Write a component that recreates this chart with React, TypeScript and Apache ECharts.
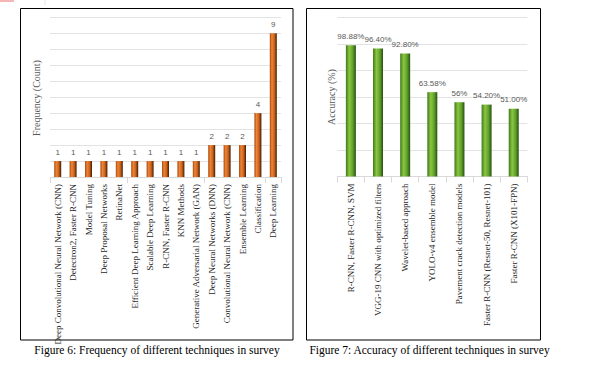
import React, { useEffect, useRef } from "react";
import * as echarts from "echarts";

const techniqueCategories = [
  "Deep Convolutional Neural Network (CNN)",
  "Detectron2, Faster R-CNN",
  "Model Tuning",
  "Deep Proposal Networks",
  "RetinaNet",
  "Efficient Deep Learning Approach",
  "Scalable Deep Learning",
  "R-CNN, Faster R-CNN",
  "KNN Methods",
  "Generative Adversarial Network (GAN)",
  "Deep Neural Networks (DNN)",
  "Convolutional Neural Network (CNN)",
  "Ensemble Learning",
  "Classification",
  "Deep Learning",
];
const techniqueCounts = [1, 1, 1, 1, 1, 1, 1, 1, 1, 1, 2, 2, 2, 4, 9];

const accuracyCategories = [
  "R-CNN, Faster R-CNN, SVM",
  "VGG-19 CNN with optimized filters",
  "Wavelet-based approach",
  "YOLO-v4 ensemble model",
  "Pavement crack detection models",
  "Faster R-CNN (Resnet-50, Resnet-101)",
  "Faster R-CNN (X101-FPN)",
];
const accuracyValues = [98.88, 96.4, 92.8, 63.58, 56, 54.2, 51.0];
const accuracyLabels = ["98.88%", "96.40%", "92.80%", "63.58%", "56%", "54.20%", "51.00%"];

const leftTitle = "Figure 6: Frequency of different techniques in survey";
const rightTitle = "Figure 7: Accuracy of different techniques in survey";
const leftAxisName = "Frequency (Count)";
const rightAxisName = "Accuracy (%)";

const serif = "'Liberation Serif', 'Times New Roman', serif";
const sans = "'Liberation Sans', Arial, sans-serif";

const orange = new echarts.graphic.LinearGradient(0, 0, 1, 0, [
  { offset: 0, color: "#a9490c" },
  { offset: 0.3, color: "#ee8436" },
  { offset: 0.65, color: "#cc631a" },
  { offset: 1, color: "#3f1c06" },
]);
const green = new echarts.graphic.LinearGradient(0, 0, 1, 0, [
  { offset: 0, color: "#3f7a1c" },
  { offset: 0.35, color: "#8cc63f" },
  { offset: 0.7, color: "#5e9e2c" },
  { offset: 1, color: "#27500c" },
]);

export default function App() {
  const ref = useRef<HTMLDivElement>(null);
  useEffect(() => {
    document.body.style.margin = "0";
    const chart = echarts.init(ref.current!, null, { renderer: "svg" });
    const catLabel = {
      rotate: 90,
      fontFamily: serif,
      fontSize: 9,
      color: "#262626",
      margin: 7,
      interval: 0,
    };
    chart.setOption({
      animation: false,
      backgroundColor: "#ffffff",
      grid: [
        { left: 50, right: 323, top: 17.3, bottom: 189 },
        { left: 337.3, right: 76.7, top: 17.3, bottom: 189.5 },
      ],
      xAxis: [
        {
          type: "category",
          gridIndex: 0,
          data: techniqueCategories,
          axisLine: { lineStyle: { color: "#d9d9d9" } },
          axisTick: { show: true, interval: 4, length: 6, lineStyle: { color: "#d9d9d9" } },
          axisLabel: catLabel,
        },
        {
          type: "category",
          gridIndex: 1,
          data: accuracyCategories,
          axisLine: { lineStyle: { color: "#d9d9d9" } },
          axisTick: { show: true, length: 6, lineStyle: { color: "#d9d9d9" } },
          axisLabel: catLabel,
        },
      ],
      yAxis: [
        {
          type: "value",
          gridIndex: 0,
          min: 0,
          max: 10,
          interval: 1,
          axisLabel: { show: false },
          axisLine: { show: false },
          axisTick: { show: false },
          splitLine: { lineStyle: { color: "#e3e3e3" } },
        },
        {
          type: "value",
          gridIndex: 1,
          min: 0,
          max: 120,
          interval: 20,
          axisLabel: { show: false },
          axisLine: { show: false },
          axisTick: { show: false },
          splitLine: { lineStyle: { color: "#e3e3e3" } },
        },
      ],
      series: [
        {
          type: "bar",
          xAxisIndex: 0,
          yAxisIndex: 0,
          data: techniqueCounts,
          barWidth: 7,
          itemStyle: { color: orange },
          label: {
            show: true,
            position: "top",
            distance: 5,
            fontFamily: sans,
            fontSize: 8,
            color: "#595959",
          },
        },
        {
          type: "bar",
          xAxisIndex: 1,
          yAxisIndex: 1,
          data: accuracyValues,
          barWidth: 10,
          itemStyle: { color: green },
          label: {
            show: true,
            position: "top",
            distance: 5,
            fontFamily: sans,
            fontSize: 8,
            color: "#595959",
            formatter: (p: any) => accuracyLabels[p.dataIndex],
          },
        },
      ],
      graphic: [
        { type: "rect", shape: { x: 0, y: -2, width: 14, height: 4 }, style: { fill: "#f4b6b6" } },
        { type: "line", shape: { x1: 45, y1: 0, x2: 45, y2: 5 }, style: { stroke: "#e6e6e6", lineWidth: 1 } },
        { type: "rect", shape: { x: 20.5, y: 8.5, width: 272.5, height: 331.5 }, style: { fill: "none", stroke: "#000", lineWidth: 1 } },
        { type: "rect", shape: { x: 306.5, y: 8.5, width: 234, height: 331.5 }, style: { fill: "none", stroke: "#000", lineWidth: 1 } },
        {
          type: "text",
          x: 36,
          y: 98,
          rotation: Math.PI / 2,
          style: { text: leftAxisName, fontFamily: serif, fontSize: 10, fill: "#595959", align: "center", verticalAlign: "middle" },
        },
        {
          type: "text",
          x: 331,
          y: 97,
          rotation: Math.PI / 2,
          style: { text: rightAxisName, fontFamily: serif, fontSize: 10, fill: "#595959", align: "center", verticalAlign: "middle" },
        },
        {
          type: "text",
          x: 157,
          y: 350,
          style: { text: leftTitle, fontFamily: serif, fontSize: 11.5, fill: "#000", align: "center", verticalAlign: "middle" },
        },
        {
          type: "text",
          x: 429.5,
          y: 350,
          style: { text: rightTitle, fontFamily: serif, fontSize: 11.5, fill: "#000", align: "center", verticalAlign: "middle" },
        },
      ],
    });
    return () => chart.dispose();
  }, []);
  return <div ref={ref} style={{ width: 604, height: 366 }} />;
}
